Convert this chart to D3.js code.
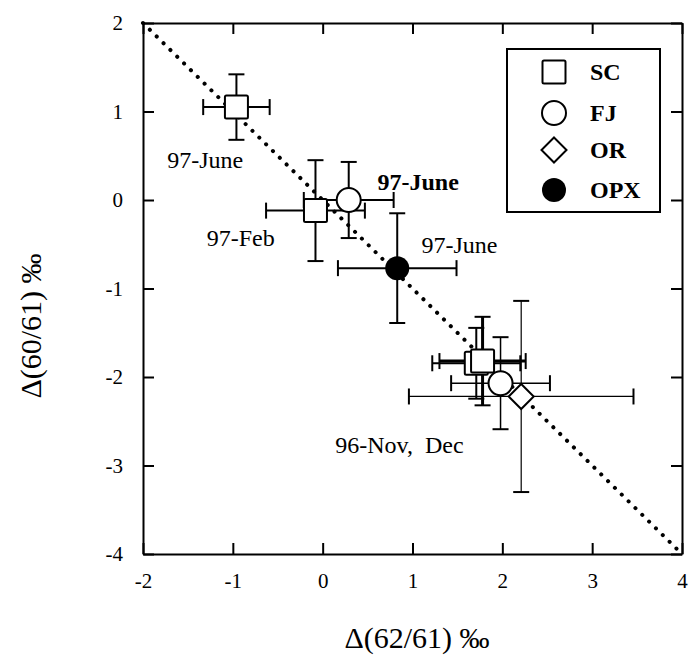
<!DOCTYPE html>
<html>
<head>
<meta charset="utf-8">
<script src="https://cdn.jsdelivr.net/npm/d3@7"></script>
<style>
  body { margin: 0; background: #fff; }
  .axis line, .axis path { stroke: #000; stroke-width: 2; }
</style>
</head>
<body>
<svg id="chart"></svg>
<script>
// data
const seriesNames = ['SC', 'FJ', 'OR', 'OPX'];
const pointSeries = ['SC', 'SC', 'FJ', 'OPX', 'SC', 'SC', 'FJ', 'OR'];
const xValues = [-0.96, -0.08, 0.29, 0.83, 1.71, 1.78, 1.98, 2.21];
const yValues = [1.05, -0.12, 0.0, -0.77, -1.845, -1.82, -2.07, -2.22];
const xErrors = [0.37, 0.55, 0.5, 0.66, 0.49, 0.48, 0.55, 1.25];
const yErrors = [0.37, 0.57, 0.43, 0.62, 0.4, 0.5, 0.52, 1.08];
const xTicks = [-2, -1, 0, 1, 2, 3, 4];
const yTicks = [-4, -3, -2, -1, 0, 1, 2];
const labelTexts = ['97-June', '97-Feb', '97-June', '97-June', '96-Nov,  Dec'];
const labelX = [-1.73, -1.29, 0.61, 1.10, 0.14];
const labelY = [0.36, -0.52, 0.11, -0.60, -2.86];
const refLine = [[-2, 2], [4, -4]];

const FONT = 'Liberation Serif';
const width = 691, height = 655;
const margin = { top: 23, right: 9, bottom: 101, left: 143 };
const innerW = width - margin.left - margin.right;
const innerH = height - margin.top - margin.bottom;
const barStroke = [2, 2, 2, 2, 2, 3, 1.5, 1.2];

const svg = d3.select('#chart').attr('width', width).attr('height', height);
const g = svg.append('g').attr('transform', `translate(${margin.left},${margin.top})`);

const x = d3.scaleLinear().domain([-2, 4]).range([0, innerW]);
const y = d3.scaleLinear().domain([-4, 2]).range([innerH, 0]);
const fmt = d => String(d);

g.append('g').attr('class', 'axis')
  .attr('transform', `translate(0,${innerH})`)
  .call(d3.axisBottom(x).tickValues(xTicks).tickSize(-11).tickSizeOuter(0).tickPadding(19).tickFormat(fmt));
g.append('g').attr('class', 'axis')
  .call(d3.axisLeft(y).tickValues(yTicks).tickSize(-11).tickSizeOuter(0).tickPadding(20).tickFormat(fmt));
g.append('g').attr('class', 'axis')
  .call(d3.axisTop(x).tickValues(xTicks).tickSize(-11).tickSizeOuter(0).tickFormat(''));
g.append('g').attr('class', 'axis')
  .attr('transform', `translate(${innerW},0)`)
  .call(d3.axisRight(y).tickValues(yTicks).tickSize(-11).tickSizeOuter(0).tickFormat(''));
g.selectAll('.axis').attr('font-family', FONT).attr('font-size', 21);
g.selectAll('.axis text').attr('fill', '#000');

// dotted 1:1 line
g.append('path')
  .datum(refLine)
  .attr('d', d3.line().x(d => x(d[0])).y(d => y(d[1])))
  .attr('fill', 'none')
  .attr('stroke', '#000')
  .attr('stroke-width', 4)
  .attr('stroke-linecap', 'round')
  .attr('stroke-dasharray', '0.1 9.5');

// error bars
const idx = d3.range(xValues.length);
const cap = 8;
const bars = g.append('g').attr('stroke', '#000');
idx.forEach(i => {
  const cx = x(xValues[i]), cy = y(yValues[i]);
  const x0 = x(xValues[i] - xErrors[i]), x1 = x(xValues[i] + xErrors[i]);
  const y0 = y(yValues[i] + yErrors[i]), y1 = y(yValues[i] - yErrors[i]);
  const w = barStroke[i];
  bars.append('line').attr('x1', x0).attr('x2', x1).attr('y1', cy).attr('y2', cy).attr('stroke-width', w);
  bars.append('line').attr('x1', cx).attr('x2', cx).attr('y1', y0).attr('y2', y1).attr('stroke-width', w);
  [x0, x1].forEach(px => bars.append('line').attr('x1', px).attr('x2', px).attr('y1', cy - cap).attr('y2', cy + cap).attr('stroke-width', 2));
  [y0, y1].forEach(py => bars.append('line').attr('x1', cx - cap).attr('x2', cx + cap).attr('y1', py).attr('y2', py).attr('stroke-width', 2));
});

function drawMarker(sel, name, cx, cy) {
  if (name === 'SC') {
    sel.append('rect').attr('x', cx - 11.5).attr('y', cy - 11.5).attr('width', 23).attr('height', 23)
      .attr('rx', 1.5).attr('fill', '#fff').attr('stroke', '#000').attr('stroke-width', 2);
  } else if (name === 'FJ') {
    sel.append('circle').attr('cx', cx).attr('cy', cy).attr('r', 12)
      .attr('fill', '#fff').attr('stroke', '#000').attr('stroke-width', 2);
  } else if (name === 'OR') {
    const r = 12.5;
    sel.append('path').attr('d', `M${cx},${cy - r}L${cx + r},${cy}L${cx},${cy + r}L${cx - r},${cy}Z`)
      .attr('fill', '#fff').attr('stroke', '#000').attr('stroke-width', 2);
  } else {
    sel.append('circle').attr('cx', cx).attr('cy', cy).attr('r', 12).attr('fill', '#000');
  }
}

const marks = g.append('g');
idx.forEach(i => drawMarker(marks, pointSeries[i], x(xValues[i]), y(yValues[i])));

// point annotations
g.append('g').selectAll('text')
  .data(labelTexts)
  .enter()
  .append('text')
  .attr('x', (d, i) => x(labelX[i]))
  .attr('y', (d, i) => y(labelY[i]))
  .attr('font-family', FONT)
  .attr('font-size', 24)
  .attr('font-weight', (d, i) => (i === 2 ? 'bold' : 'normal'))
  .style('white-space', 'pre')
  .text(d => d);

// legend
const legend = svg.append('g').attr('transform', 'translate(507,49)');
legend.append('rect').attr('width', 153).attr('height', 163)
  .attr('fill', '#fff').attr('stroke', '#000').attr('stroke-width', 2);
const legendY = [23, 64, 101, 141];
seriesNames.forEach((s, i) => {
  drawMarker(legend, s, 47, legendY[i]);
  legend.append('text').attr('x', 83).attr('y', legendY[i] + 8)
    .attr('font-family', FONT).attr('font-size', 24).attr('font-weight', 'bold').text(s);
});

// axis titles
svg.append('text')
  .attr('x', 417).attr('y', 648)
  .attr('text-anchor', 'middle')
  .attr('font-family', FONT)
  .attr('font-size', 30)
  .text('Δ(62/61) ‰');
svg.append('text')
  .attr('transform', 'translate(41,326) rotate(-90)')
  .attr('text-anchor', 'middle')
  .attr('font-family', FONT)
  .attr('font-size', 30)
  .text('Δ(60/61) ‰');
</script>
</body>
</html>
